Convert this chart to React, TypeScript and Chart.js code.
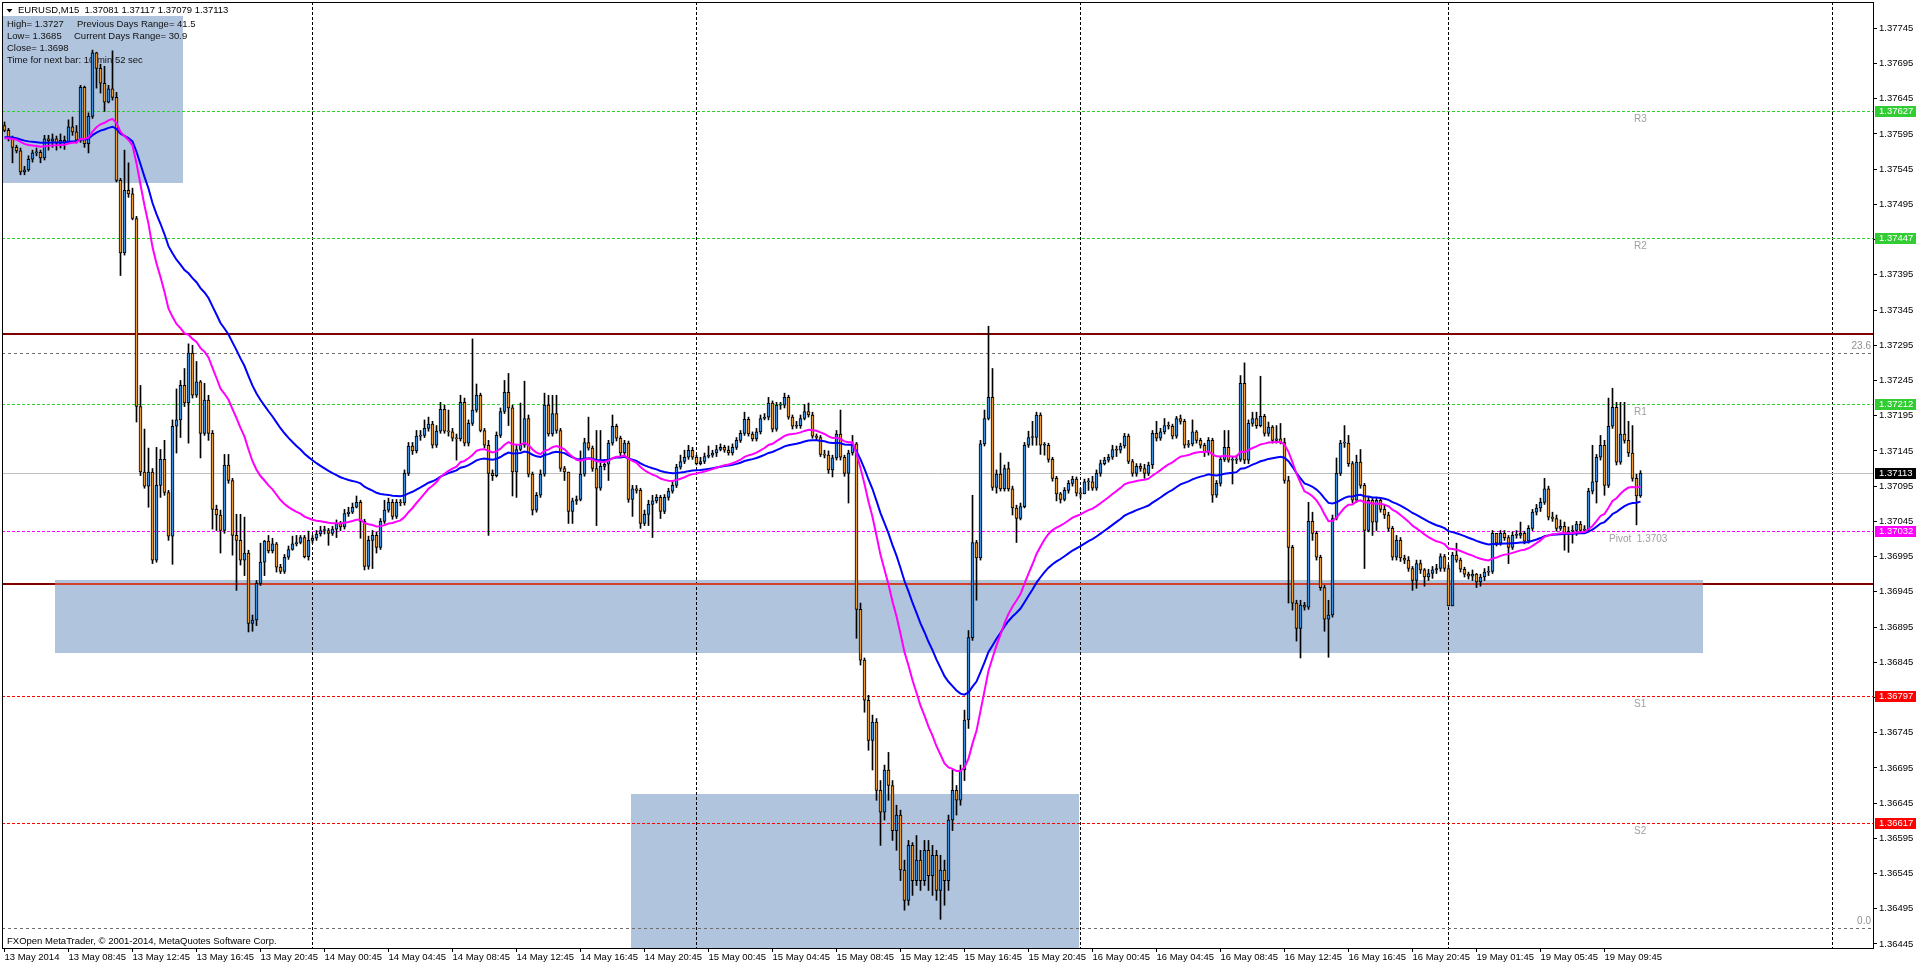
import React, { useEffect, useRef } from "react";
import { Chart, registerables } from "chart.js";

Chart.register(...registerables);

// ---------------- data (EURUSD M15, 13 May 04:45 -> 19 May 12:00) ----------------
const FIRST_OPEN = 1.37607;

const closes = [
  1.37600,1.37589,1.37576,1.37571,1.37541,1.37544,1.37559,1.37568,1.37569,1.37561,
  1.37588,1.37585,1.37588,1.37582,1.37586,1.37583,1.37605,1.37598,1.37586,1.37661,
  1.37581,1.37620,1.37710,1.37688,1.37667,1.37640,1.37659,1.37647,1.37529,1.37426,
  1.37515,1.37510,1.37475,1.37208,1.37115,1.37095,1.37115,1.36990,1.37096,1.37133,
  1.37086,1.37024,1.37180,1.37189,1.37238,1.37213,1.37284,1.37224,1.37243,1.37170,
  1.37217,1.37170,1.37062,1.37054,1.37032,1.37125,1.37103,1.37025,1.37018,1.36990,
  1.37000,1.36900,1.36905,1.36957,1.36987,1.37017,1.37003,1.37013,1.36980,1.36974,
  1.36994,1.37005,1.37013,1.37015,1.37022,1.36995,1.37018,1.37021,1.37027,1.37032,
  1.37032,1.37028,1.37034,1.37042,1.37037,1.37056,1.37058,1.37065,1.37072,1.37045,
  1.36981,1.37018,1.37025,1.37008,1.37045,1.37061,1.37072,1.37052,1.37072,1.37071,
  1.37113,1.37152,1.37145,1.37166,1.37167,1.37177,1.37183,1.37153,1.37173,1.37204,
  1.37173,1.37172,1.37163,1.37162,1.37214,1.37156,1.37184,1.37203,1.37224,1.37174,
  1.37153,1.37113,1.37110,1.37167,1.37201,1.37228,1.37206,1.37115,1.37147,1.37153,
  1.37191,1.37112,1.37061,1.37082,1.37112,1.37210,1.37169,1.37198,1.37174,1.37120,
  1.37115,1.37059,1.37074,1.37076,1.37112,1.37157,1.37149,1.37120,1.37092,1.37123,
  1.37126,1.37156,1.37180,1.37163,1.37142,1.37156,1.37076,1.37091,1.37089,1.37042,
  1.37055,1.37069,1.37074,1.37079,1.37059,1.37079,1.37088,1.37096,1.37122,1.37130,
  1.37136,1.37146,1.37136,1.37127,1.37130,1.37137,1.37139,1.37142,1.37147,1.37150,
  1.37146,1.37142,1.37150,1.37160,1.37170,1.37190,1.37169,1.37162,1.37172,1.37191,
  1.37193,1.37213,1.37176,1.37210,1.37210,1.37221,1.37193,1.37180,1.37181,1.37191,
  1.37201,1.37196,1.37166,1.37164,1.37140,1.37139,1.37118,1.37135,1.37169,1.37136,
  1.37113,1.37142,1.37155,1.36920,1.36848,1.36791,1.36734,1.36760,1.36663,1.36632,
  1.36692,1.36670,1.36606,1.36628,1.36550,1.36507,1.36585,1.36535,1.36564,1.36535,
  1.36578,1.36542,1.36571,1.36521,1.36550,1.36535,1.36621,1.36663,1.36649,1.36692,
  1.36763,1.36880,1.37015,1.36993,1.37155,1.37191,1.37221,1.37093,1.37112,1.37091,
  1.37120,1.37091,1.37064,1.37049,1.37066,1.37153,1.37164,1.37164,1.37196,1.37153,
  1.37153,1.37133,1.37106,1.37084,1.37076,1.37089,1.37099,1.37105,1.37085,1.37084,
  1.37101,1.37101,1.37092,1.37113,1.37127,1.37132,1.37136,1.37147,1.37146,1.37152,
  1.37166,1.37130,1.37113,1.37123,1.37120,1.37113,1.37125,1.37170,1.37163,1.37172,
  1.37181,1.37180,1.37166,1.37191,1.37187,1.37153,1.37155,1.37172,1.37160,1.37153,
  1.37143,1.37160,1.37082,1.37099,1.37133,1.37150,1.37132,1.37132,1.37133,1.37241,
  1.37132,1.37184,1.37191,1.37181,1.37194,1.37170,1.37179,1.37160,1.37162,1.37157,
  1.37103,1.37008,1.36929,1.36893,1.36926,1.36923,1.37045,1.37028,1.36994,1.36951,
  1.36906,1.36912,1.37049,1.37113,1.37156,1.37156,1.37127,1.37075,1.37129,1.37096,
  1.37032,1.37075,1.37044,1.37075,1.37062,1.37054,1.37035,1.36994,1.37018,1.36993,
  1.36990,1.36978,1.36961,1.36985,1.36976,1.36966,1.36971,1.36976,1.36978,1.36995,
  1.36978,1.36925,1.36997,1.36990,1.36977,1.36970,1.36967,1.36970,1.36959,1.36966,
  1.36973,1.36974,1.37028,1.37014,1.37028,1.37022,1.37008,1.37025,1.37025,1.37028,
  1.37017,1.37035,1.37058,1.37064,1.37072,1.37091,1.37051,1.37049,1.37035,1.37038,
  1.37028,1.37031,1.37032,1.37041,1.37032,1.37034,1.37088,1.37101,1.37136,1.37153,
  1.37096,1.37180,1.37207,1.37129,1.37169,1.37160,1.37142,1.37106,1.37081,1.37113,
];

const highs = [
  1.37612,1.37603,1.37592,1.37579,1.37575,1.37549,1.37564,1.37572,1.37575,1.37572,
  1.37593,1.37593,1.37595,1.37592,1.37595,1.37592,1.37615,1.37619,1.37607,1.37664,
  1.37663,1.37625,1.37714,1.37711,1.37694,1.37691,1.37664,1.37713,1.37654,1.37532,
  1.37572,1.37554,1.37518,1.37478,1.37238,1.37176,1.37149,1.37120,1.37150,1.37147,
  1.37160,1.37089,1.37189,1.37233,1.37245,1.37262,1.37297,1.37295,1.37272,1.37245,
  1.37241,1.37224,1.37174,1.37068,1.37061,1.37140,1.37140,1.37106,1.37055,1.37055,
  1.37051,1.37004,1.36912,1.36961,1.37014,1.37018,1.37025,1.37021,1.37015,1.36984,
  1.36998,1.37010,1.37024,1.37025,1.37025,1.37025,1.37031,1.37025,1.37032,1.37038,
  1.37038,1.37035,1.37038,1.37047,1.37045,1.37062,1.37065,1.37071,1.37081,1.37075,
  1.37048,1.37024,1.37032,1.37030,1.37049,1.37075,1.37078,1.37076,1.37076,1.37076,
  1.37118,1.37157,1.37157,1.37174,1.37174,1.37189,1.37193,1.37187,1.37181,1.37214,
  1.37210,1.37203,1.37177,1.37169,1.37224,1.37220,1.37189,1.37304,1.37240,1.37227,
  1.37177,1.37160,1.37118,1.37172,1.37206,1.37245,1.37255,1.37210,1.37153,1.37213,
  1.37244,1.37196,1.37115,1.37086,1.37118,1.37227,1.37224,1.37224,1.37224,1.37177,
  1.37123,1.37115,1.37078,1.37081,1.37145,1.37163,1.37193,1.37152,1.37174,1.37174,
  1.37133,1.37160,1.37196,1.37183,1.37166,1.37160,1.37159,1.37096,1.37096,1.37092,
  1.37061,1.37075,1.37082,1.37083,1.37082,1.37083,1.37092,1.37101,1.37126,1.37139,
  1.37146,1.37153,1.37150,1.37139,1.37136,1.37142,1.37152,1.37146,1.37153,1.37155,
  1.37153,1.37152,1.37155,1.37164,1.37174,1.37200,1.37193,1.37172,1.37177,1.37196,
  1.37198,1.37221,1.37216,1.37214,1.37214,1.37227,1.37224,1.37196,1.37187,1.37196,
  1.37211,1.37213,1.37200,1.37169,1.37167,1.37146,1.37145,1.37139,1.37174,1.37203,
  1.37139,1.37146,1.37167,1.37157,1.36929,1.36851,1.36798,1.36770,1.36765,1.36677,
  1.36699,1.36717,1.36677,1.36642,1.36635,1.36564,1.36592,1.36589,1.36599,1.36578,
  1.36592,1.36592,1.36585,1.36578,1.36571,1.36564,1.36628,1.36692,1.36670,1.36699,
  1.36777,1.36890,1.37082,1.37018,1.37160,1.37203,1.37322,1.37262,1.37118,1.37142,
  1.37125,1.37129,1.37095,1.37068,1.37071,1.37157,1.37173,1.37187,1.37200,1.37199,
  1.37157,1.37156,1.37136,1.37109,1.37086,1.37093,1.37103,1.37109,1.37108,1.37092,
  1.37105,1.37106,1.37109,1.37118,1.37132,1.37136,1.37140,1.37153,1.37152,1.37156,
  1.37170,1.37169,1.37133,1.37127,1.37127,1.37126,1.37129,1.37174,1.37187,1.37177,
  1.37191,1.37186,1.37183,1.37194,1.37196,1.37190,1.37160,1.37189,1.37174,1.37163,
  1.37156,1.37164,1.37163,1.37103,1.37137,1.37174,1.37174,1.37136,1.37139,1.37252,
  1.37270,1.37189,1.37200,1.37200,1.37251,1.37197,1.37186,1.37181,1.37181,1.37184,
  1.37163,1.37109,1.37011,1.36933,1.36933,1.36930,1.37072,1.37058,1.37031,1.36997,
  1.36954,1.36933,1.37054,1.37135,1.37160,1.37181,1.37167,1.37130,1.37139,1.37147,
  1.37099,1.37079,1.37078,1.37079,1.37079,1.37068,1.37058,1.37038,1.37025,1.37022,
  1.36997,1.36995,1.36981,1.36990,1.36990,1.36978,1.36977,1.36981,1.36984,1.36999,
  1.36998,1.36983,1.37001,1.37014,1.36993,1.36980,1.36973,1.36976,1.36971,1.36970,
  1.36978,1.36981,1.37032,1.37025,1.37032,1.37032,1.37025,1.37030,1.37032,1.37044,
  1.37031,1.37039,1.37062,1.37069,1.37078,1.37106,1.37095,1.37058,1.37054,1.37047,
  1.37044,1.37037,1.37039,1.37045,1.37045,1.37039,1.37092,1.37153,1.37140,1.37167,
  1.37160,1.37220,1.37234,1.37214,1.37214,1.37214,1.37187,1.37181,1.37112,1.37117,
];

const lows = [
  1.37598,1.37585,1.37554,1.37568,1.37537,1.37537,1.37542,1.37555,1.37564,1.37554,
  1.37558,1.37572,1.37576,1.37572,1.37575,1.37573,1.37582,1.37593,1.37582,1.37583,
  1.37576,1.37568,1.37617,1.37660,1.37653,1.37627,1.37639,1.37643,1.37527,1.37394,
  1.37423,1.37505,1.37473,1.37186,1.37110,1.37092,1.37065,1.36985,1.36987,1.37079,
  1.37082,1.37018,1.36984,1.37142,1.37164,1.37208,1.37156,1.37220,1.37221,1.37135,
  1.37167,1.37160,1.37034,1.37032,1.37000,1.37028,1.37099,1.36997,1.36947,1.36983,
  1.36968,1.36888,1.36889,1.36897,1.36954,1.36968,1.37000,1.37000,1.36973,1.36971,
  1.36971,1.36991,1.37004,1.37010,1.37013,1.36993,1.36990,1.37014,1.37018,1.37024,
  1.37027,1.37011,1.37025,1.37022,1.37032,1.37034,1.37052,1.37056,1.37064,1.37021,
  1.36976,1.36977,1.36978,1.37000,1.37005,1.37042,1.37058,1.37048,1.37049,1.37067,
  1.37068,1.37110,1.37140,1.37142,1.37160,1.37164,1.37173,1.37149,1.37150,1.37170,
  1.37170,1.37166,1.37159,1.37132,1.37159,1.37152,1.37152,1.37181,1.37200,1.37172,
  1.37149,1.37025,1.37103,1.37108,1.37164,1.37198,1.37181,1.37081,1.37079,1.37145,
  1.37150,1.37108,1.37054,1.37058,1.37079,1.37109,1.37166,1.37166,1.37170,1.37116,
  1.37103,1.37042,1.37042,1.37069,1.37074,1.37109,1.37146,1.37116,1.37039,1.37089,
  1.37118,1.37103,1.37153,1.37159,1.37137,1.37139,1.37072,1.37052,1.37085,1.37035,
  1.37039,1.37039,1.37022,1.37071,1.37049,1.37056,1.37075,1.37085,1.37093,1.37119,
  1.37127,1.37133,1.37133,1.37125,1.37125,1.37127,1.37135,1.37136,1.37137,1.37145,
  1.37143,1.37139,1.37139,1.37147,1.37157,1.37167,1.37166,1.37159,1.37159,1.37169,
  1.37189,1.37189,1.37172,1.37173,1.37204,1.37206,1.37190,1.37176,1.37177,1.37177,
  1.37189,1.37193,1.37163,1.37160,1.37137,1.37135,1.37113,1.37108,1.37132,1.37132,
  1.37109,1.37071,1.37139,1.36879,1.36841,1.36774,1.36720,1.36692,1.36649,1.36585,
  1.36621,1.36649,1.36592,1.36578,1.36535,1.36493,1.36500,1.36514,1.36528,1.36521,
  1.36528,1.36521,1.36514,1.36507,1.36480,1.36500,1.36521,1.36606,1.36628,1.36642,
  1.36677,1.36751,1.36876,1.36933,1.36990,1.37152,1.37189,1.37089,1.37085,1.37088,
  1.37088,1.37088,1.37054,1.37015,1.37047,1.37064,1.37150,1.37153,1.37153,1.37140,
  1.37139,1.37129,1.37102,1.37074,1.37071,1.37074,1.37085,1.37095,1.37081,1.37078,
  1.37086,1.37089,1.37089,1.37089,1.37109,1.37125,1.37129,1.37133,1.37137,1.37142,
  1.37149,1.37127,1.37109,1.37109,1.37116,1.37106,1.37110,1.37120,1.37159,1.37160,
  1.37169,1.37176,1.37162,1.37163,1.37183,1.37149,1.37150,1.37152,1.37156,1.37149,
  1.37137,1.37139,1.37072,1.37079,1.37095,1.37130,1.37129,1.37098,1.37127,1.37130,
  1.37127,1.37127,1.37180,1.37177,1.37179,1.37166,1.37166,1.37156,1.37156,1.37155,
  1.37099,1.36929,1.36919,1.36875,1.36851,1.36919,1.36920,1.37018,1.36990,1.36947,
  1.36889,1.36852,1.36909,1.37047,1.37110,1.37150,1.37123,1.37071,1.37072,1.37092,
  1.36978,1.37030,1.37025,1.37032,1.37058,1.37049,1.37031,1.36990,1.36990,1.36988,
  1.36985,1.36974,1.36947,1.36950,1.36971,1.36953,1.36961,1.36964,1.36971,1.36974,
  1.36974,1.36925,1.36947,1.36987,1.36973,1.36966,1.36963,1.36961,1.36951,1.36953,
  1.36961,1.36968,1.36971,1.37010,1.37011,1.37018,1.36985,1.37005,1.37021,1.37021,
  1.37013,1.37014,1.37032,1.37054,1.37059,1.37069,1.37047,1.37045,1.37031,1.37032,
  1.37004,1.37001,1.37014,1.37025,1.37028,1.37028,1.37030,1.37084,1.37071,1.37132,
  1.37082,1.37093,1.37177,1.37125,1.37126,1.37156,1.37137,1.37102,1.37040,1.37079,
];

// moving averages (exponential) : periods and the level each line shows at the first visible bar
const FAST_PERIOD = 28;
const SLOW_PERIOD = 50;
const FAST_START = 1.37588;
const SLOW_START = 1.37590;

// time axis (one tick every 16 bars)
const xTickIdx = [0,16,32,48,64,80,96,112,128,144,160,176,192,208,224,240,256,272,288,304,320,336,352,368,384,400];
const xTickLabels = [
  "13 May 2014","13 May 08:45","13 May 12:45","13 May 16:45","13 May 20:45",
  "14 May 00:45","14 May 04:45","14 May 08:45","14 May 12:45","14 May 16:45","14 May 20:45",
  "15 May 00:45","15 May 04:45","15 May 08:45","15 May 12:45","15 May 16:45","15 May 20:45",
  "16 May 00:45","16 May 04:45","16 May 08:45","16 May 12:45","16 May 16:45","16 May 20:45",
  "19 May 01:45","19 May 05:45","19 May 09:45",
];
const daySeparators = [77, 173, 269, 361, 457];

// price axis
const yTickValues = [
  1.36445,1.36495,1.36545,1.36595,1.36645,1.36695,1.36745,1.36795,1.36845,1.36895,
  1.36945,1.36995,1.37045,1.37095,1.37145,1.37195,1.37245,1.37295,1.37345,1.37395,
  1.37445,1.37495,1.37545,1.37595,1.37645,1.37695,1.37745,
];
const X_MIN = -0.625;
const X_MAX = 467.125;
const Y_MIN = 1.364393;
const Y_MAX = 1.377823;

// pivot levels
const pivotNames = ["R3", "R2", "R1", "Pivot", "S1", "S2"];
const pivotPrices = [1.37627, 1.37447, 1.37212, 1.37032, 1.36797, 1.36617];
const pivotColors = ["#32cd32", "#32cd32", "#32cd32", "#ff00ff", "#ff0000", "#ff0000"];

// other horizontal objects
const bidPrice = 1.37113;
const resistanceLine = 1.37311;
const supportLine = 1.36956;
const fibPrices = [1.37284, 1.36468];
const fibNames = ["23.6", "0.0"];

// rectangles (bar index from/to, price top/bottom)
const zoneFrom = [-1, 12.6, 156.6];
const zoneTo = [44.6, 424.6, 268.6];
const zoneTop = [1.3779, 1.36962, 1.36658];
const zoneBottom = [1.37525, 1.36858, 1.3640];

const BULL = "#3c8fdc";
const BEAR = "#eb9a2f";
const FONT = "Liberation Sans";

function ema(values: number[], period: number, start: number) {
  const a = 2 / (period + 1);
  let e = start;
  return values.map((v) => (e = e + a * (v - e)));
}

const overlay = {
  id: "mt4overlay",
  beforeDatasetsDraw(chart: any) {
    const { ctx, chartArea: ca, scales } = chart;
    const x = scales.x, y = scales.y;
    ctx.save();
    ctx.beginPath();
    ctx.rect(ca.left, ca.top, ca.right - ca.left, ca.bottom - ca.top);
    ctx.clip();

    // rectangles
    ctx.fillStyle = "#b0c4de";
    for (let i = 0; i < zoneFrom.length; i++) {
      const x0 = Math.round(x.getPixelForValue(zoneFrom[i]));
      const x1 = Math.round(x.getPixelForValue(zoneTo[i]));
      const y0 = Math.round(y.getPixelForValue(zoneTop[i]));
      const y1 = Math.round(y.getPixelForValue(zoneBottom[i]));
      ctx.fillRect(x0, y0, x1 - x0, y1 - y0);
    }

    // header box and text
    ctx.fillStyle = "#fff";
    ctx.fillRect(3, 3, 224, 13);
    ctx.fillStyle = "#000";
    ctx.beginPath();
    ctx.moveTo(6.5, 9);
    ctx.lineTo(12.5, 9);
    ctx.lineTo(9.5, 12.5);
    ctx.closePath();
    ctx.fill();
    ctx.font = `9.5px "${FONT}"`;
    ctx.textBaseline = "middle";
    ctx.textAlign = "left";
    ctx.fillText("EURUSD,M15  1.37081 1.37117 1.37079 1.37113", 18, 10.5);
    ctx.fillStyle = "#111";
    ctx.fillText("High= 1.3727", 7, 24);
    ctx.fillText("Previous Days Range= 41.5", 77, 24);
    ctx.fillText("Low= 1.3685", 7, 36);
    ctx.fillText("Current Days Range= 30.9", 74, 36);
    ctx.fillText("Close= 1.3698", 7, 48);
    ctx.fillText("Time for next bar: 10 min 52 sec", 7, 60);
    ctx.fillStyle = "#000";
    ctx.fillText("FXOpen MetaTrader, \u00a9 2001-2014, MetaQuotes Software Corp.", 7, 941);

    // day separators
    ctx.strokeStyle = "#000";
    ctx.lineWidth = 1;
    ctx.setLineDash([3, 2]);
    for (const s of daySeparators) {
      const px = Math.floor(x.getPixelForValue(s)) + 0.5;
      ctx.beginPath();
      ctx.moveTo(px, ca.top);
      ctx.lineTo(px, ca.bottom);
      ctx.stroke();
    }

    const hline = (p: number, color: string, width: number, dash: number[], from = ca.left, to = ca.right) => {
      const py = y.getPixelForValue(p);
      const yy = width % 2 ? Math.round(py) + 0.5 : Math.round(py);
      ctx.beginPath();
      ctx.setLineDash(dash);
      ctx.strokeStyle = color;
      ctx.lineWidth = width;
      ctx.moveTo(from, yy);
      ctx.lineTo(to, yy);
      ctx.stroke();
      return yy;
    };

    // fibonacci levels
    ctx.font = `10px "${FONT}"`;
    for (let i = 0; i < fibPrices.length; i++) {
      const yy = hline(fibPrices[i], "#6e6e6e", 1, [3, 3]);
      ctx.fillStyle = "#909090";
      ctx.textAlign = "right";
      ctx.fillText(fibNames[i], ca.right - 2, yy - 7);
    }
    // bid line
    hline(bidPrice, "#c0c0c0", 1, []);
    // pivot levels
    for (let i = 0; i < pivotPrices.length; i++) {
      const yy = hline(pivotPrices[i], pivotColors[i], 1, [3, 2]);
      ctx.fillStyle = "#a0a0a0";
      ctx.textAlign = "left";
      if (pivotNames[i] === "Pivot") {
        ctx.fillText("Pivot  " + pivotPrices[i].toFixed(4), 1609, yy + 8);
      } else {
        ctx.fillText(pivotNames[i], 1634, yy + 8);
      }
    }
    // support / resistance lines
    hline(resistanceLine, "#800000", 2, []);
    hline(supportLine, "#800000", 2, []);
    hline(supportLine, "#d2402a", 2, [], x.getPixelForValue(zoneFrom[1]), x.getPixelForValue(zoneTo[1]));
    ctx.restore();
  },
  afterDraw(chart: any) {
    const { ctx, chartArea: ca, scales } = chart;
    const y = scales.y;
    ctx.save();
    ctx.strokeStyle = "#000";
    ctx.lineWidth = 1;
    ctx.setLineDash([]);
    ctx.strokeRect(ca.left + 0.5, ca.top + 0.5, ca.right - ca.left, ca.bottom - ca.top);
    ctx.font = `9.5px "${FONT}"`;
    ctx.textBaseline = "middle";
    ctx.textAlign = "left";
    const boxPrices = [...pivotPrices, bidPrice];
    const boxColors = [...pivotColors, "#000"];
    for (let i = 0; i < boxPrices.length; i++) {
      const py = Math.round(y.getPixelForValue(boxPrices[i]));
      ctx.fillStyle = boxColors[i];
      ctx.fillRect(ca.right + 2, py - 5, 41, 11);
      ctx.fillStyle = "#fff";
      ctx.fillText(boxPrices[i].toFixed(5), ca.right + 6, py + 0.5);
    }
    ctx.restore();
  },
};

export default function App() {
  const ref = useRef<HTMLCanvasElement | null>(null);
  useEffect(() => {
    if (!ref.current) return;
    const opens = closes.map((c, i) => (i === 0 ? FIRST_OPEN : closes[i - 1]));
    const wickData = closes.map((c, i) => ({
      x: i,
      y: [Math.min(lows[i], opens[i], c), Math.max(highs[i], opens[i], c)],
    }));
    const bodyData = closes.map((c, i) => ({ x: i, y: [opens[i], c] }));
    const bodyColors = closes.map((c, i) => (c >= opens[i] ? BULL : BEAR));
    const fast = ema(closes, FAST_PERIOD, FAST_START).map((v, i) => ({ x: i, y: v }));
    const slow = ema(closes, SLOW_PERIOD, SLOW_START).map((v, i) => ({ x: i, y: v }));

    const chart = new Chart(ref.current, {
      type: "bar",
      data: {
        datasets: [
          {
            type: "bar",
            data: wickData as any,
            backgroundColor: "#000",
            borderWidth: 0,
            barThickness: 1,
            grouped: false,
            order: 3,
          } as any,
          {
            type: "bar",
            data: bodyData as any,
            backgroundColor: bodyColors,
            borderColor: "#000",
            borderWidth: 1,
            borderSkipped: false,
            barThickness: 3,
            minBarLength: 1,
            grouped: false,
            order: 2,
          } as any,
          {
            type: "line",
            data: slow as any,
            borderColor: "#0000ff",
            borderWidth: 2,
            pointRadius: 0,
            tension: 0,
            order: 1,
          } as any,
          {
            type: "line",
            data: fast as any,
            borderColor: "#ff00ff",
            borderWidth: 2,
            pointRadius: 0,
            tension: 0,
            order: 0,
          } as any,
        ],
      },
      options: {
        animation: false,
        responsive: false,
        devicePixelRatio: 1,
        events: [],
        layout: { padding: { left: 2, top: 2, right: 0, bottom: 0 } },
        plugins: { legend: { display: false }, tooltip: { enabled: false } },
        scales: {
          x: {
            type: "linear",
            min: X_MIN,
            max: X_MAX,
            offset: false,
            grid: { drawOnChartArea: false, drawTicks: true, tickLength: 4, color: "#000", offset: false },
            border: { display: false },
            ticks: {
              autoSkip: false,
              maxRotation: 0,
              minRotation: 0,
              align: "start",
              padding: 0,
              color: "#000",
              font: { family: FONT, size: 9.5 },
              callback: (_v: any, i: number) => xTickLabels[i],
            },
            afterBuildTicks: (s: any) => {
              s.ticks = xTickIdx.map((v) => ({ value: v }));
            },
            afterFit: (s: any) => {
              s.height = 18;
              s.paddingLeft = 0;
              s.paddingRight = 0;
            },
          } as any,
          y: {
            type: "linear",
            position: "right",
            min: Y_MIN,
            max: Y_MAX,
            beginAtZero: false,
            grid: { drawOnChartArea: false, drawTicks: true, tickLength: 4, color: "#000" },
            border: { display: false },
            ticks: {
              autoSkip: false,
              padding: 2,
              color: "#000",
              font: { family: FONT, size: 9.5 },
              callback: (v: any) => Number(v).toFixed(5),
            },
            afterBuildTicks: (s: any) => {
              s.ticks = yTickValues.map((v) => ({ value: v }));
            },
            afterFit: (s: any) => {
              s.width = 43;
              s.paddingTop = 0;
              s.paddingBottom = 0;
            },
          } as any,
        },
      },
      plugins: [overlay as any],
    });
    return () => chart.destroy();
  }, []);

  return (
    <div style={{ position: "absolute", left: 0, top: 0, width: 1916, height: 966, background: "#fff" }}>
      <canvas ref={ref} width={1916} height={966} style={{ display: "block" }} />
    </div>
  );
}
